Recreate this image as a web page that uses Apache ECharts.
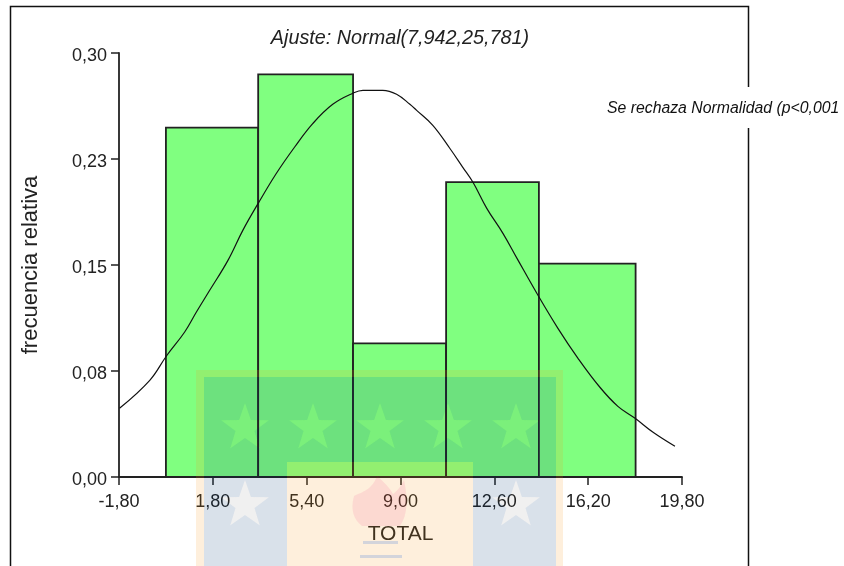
<!DOCTYPE html>
<html>
<head>
<meta charset="utf-8">
<title>Ajuste Normal</title>
<script src="https://cdn.jsdelivr.net/npm/echarts@6/dist/echarts.min.js"></script>
<style>
    html, body { margin: 0; padding: 0; background: #fff; }
    #chart { width: 844px; height: 566px; }
</style>
</head>
<body>
<div id="chart"></div>
<script>
// valores
var xTicks = [-1.8, 1.8, 5.4, 9.0, 12.6, 16.2, 19.8];
var xTickLabels = ['-1,80', '1,80', '5,40', '9,00', '12,60', '16,20', '19,80'];
var yTicks = [0, 0.075, 0.15, 0.225, 0.3];
var yTickLabels = ['0,00', '0,08', '0,15', '0,23', '0,30'];

var binEdges = [0.0, 3.54, 7.18, 10.75, 14.31, 18.02];
var binHeights = [0.2472, 0.2849, 0.0946, 0.2087, 0.1510];

var curveX = [-1.78, -0.62, 0.02, 0.72, 1.17, 1.68, 2.38, 2.95, 3.54, 4.24, 4.94, 5.64, 6.40, 7.17, 7.56, 8.32, 8.85,
    9.36, 9.62, 10.24, 10.89, 11.39, 11.78, 12.31, 12.93, 13.47, 14.23, 15.04, 15.81, 16.65, 17.34, 18.0, 18.69, 19.53];
var curveY = [0.0486, 0.0684, 0.0856, 0.1026, 0.1167, 0.1321, 0.1533, 0.1745, 0.1936, 0.2149, 0.2335, 0.2502, 0.2637, 0.2715, 0.2736, 0.2736, 0.2708,
    0.2637, 0.2594, 0.2488, 0.2326, 0.2191, 0.2085, 0.1901, 0.1724, 0.1547, 0.1300, 0.1052, 0.0840, 0.0635, 0.0500, 0.0415, 0.0316, 0.0217];

var titleText = 'Ajuste: Normal(7,942,25,781)';
var noteText = 'Se rechaza Normalidad (p<0,001';
var xName = 'TOTAL';
var yName = 'frecuencia relativa';

var FONT = '"Liberation Sans", Arial, sans-serif';
var INK = '#222';

var bins = binHeights.map(function(h, i) {
    return [binEdges[i], binEdges[i + 1], h];
});
var curve = curveX.map(function(x, i) {
    return [x, curveY[i]];
});

// estrella como contorno de path, cw = false la deja como agujero
function starPath(cx, cy, r, cw) {
    var pts = [];
    for (var i = 0; i < 10; i++) {
        var rad = i % 2 ? r * 0.4 : r;
        var a = -Math.PI / 2 + (cw ? 1 : -1) * i * Math.PI / 5;
        pts.push((cx + rad * Math.cos(a)).toFixed(1) + ' ' + (cy + rad * Math.sin(a)).toFixed(1));
    }
    return 'M' + pts.join('L') + 'Z';
}

var starCenters = [[245, 428], [313, 428], [380, 428], [448, 428], [516, 428], [245, 505], [516, 505]];
var starR = 25;

// escudo de fondo, encima de todo el grafico
function pathEl(d, fill) {
    return {
        type: 'path',
        silent: true,
        shape: { pathData: d },
        style: { fill: fill }
    };
}

var bluePath = 'M204 377H556V566H473V462H287V566H204Z' + starCenters.map(function(c) {
    return starPath(c[0], c[1], starR, false);
}).join('');
var orangePath = 'M196 370H563V566H556V377H204V566H196Z';
var orangeCenter = 'M287 462H473V566H287Z';
var flamePath = 'M377 476C372 490 362 492 354 496C350 510 354 520 362 526L400 526C408 515 408 498 404 480C400 488 396 492 393 494C390 488 384 482 377 476Z';
var starsOverlay = starCenters.map(function(c) {
    return starPath(c[0], c[1], starR, true);
}).join('');
var underlines = 'M363 541H398V544H363ZM360 555H402V558H360Z';

var option = {
    animation: false,
    backgroundColor: '#fff',
    grid: { left: 119, top: 53, right: 162, bottom: 89 },
    xAxis: {
        type: 'value',
        min: -1.8,
        max: 19.8,
        name: xName,
        nameLocation: 'middle',
        nameGap: 47,
        nameTextStyle: { fontFamily: FONT, fontSize: 21, color: INK },
        splitLine: { show: false },
        axisLine: { show: true, onZero: false, lineStyle: { color: INK, width: 1.8 } },
        axisTick: { show: true, length: 8, customValues: xTicks, lineStyle: { color: INK, width: 1.5 } },
        axisLabel: {
            show: true,
            margin: 16,
            customValues: xTicks,
            showMinLabel: true,
            showMaxLabel: true,
            fontFamily: FONT,
            fontSize: 18,
            color: INK,
            formatter: function(v) {
                return xTickLabels[xTicks.indexOf(v)];
            }
        }
    },
    yAxis: {
        type: 'value',
        min: 0,
        max: 0.3,
        interval: 0.075,
        name: yName,
        nameLocation: 'middle',
        nameGap: 77,
        nameTextStyle: { fontFamily: FONT, fontSize: 22, color: INK },
        splitLine: { show: false },
        axisLine: { show: true, onZero: false, lineStyle: { color: INK, width: 1.8 } },
        axisTick: { show: true, length: 8, lineStyle: { color: INK, width: 1.5 } },
        axisLabel: {
            margin: 12,
            verticalAlign: 'top',
            lineHeight: 7,
            fontFamily: FONT,
            fontSize: 18,
            color: INK,
            formatter: function(v, i) {
                return yTickLabels[i];
            }
        }
    },
    series: [{
        type: 'custom',
        data: bins,
        encode: { x: [0, 1], y: 2 },
        z: 2,
        renderItem: function(params, api) {
            var p0 = api.coord([api.value(0), 0]);
            var p1 = api.coord([api.value(1), api.value(2)]);
            return {
                type: 'rect',
                shape: { x: p0[0], y: p1[1], width: p1[0] - p0[0], height: p0[1] - p1[1] },
                style: { fill: '#80FF80', stroke: INK, lineWidth: 1.8 }
            };
        }
    }, {
        type: 'line',
        data: curve,
        z: 3,
        smooth: 0.4,
        showSymbol: false,
        silent: true,
        lineStyle: { color: '#111', width: 1.2 }
    }, {
        type: 'custom',
        coordinateSystem: 'none',
        data: [0],
        z: 100,
        silent: true,
        renderItem: function() {
            return {
                type: 'group',
                children: [
                    pathEl(orangePath, 'rgba(248,148,22,0.15)'),
                    pathEl(orangeCenter, 'rgba(248,148,22,0.15)'),
                    pathEl(bluePath, 'rgba(0,55,115,0.15)'),
                    pathEl(starsOverlay, 'rgba(60,60,70,0.08)'),
                    pathEl(flamePath, 'rgba(230,0,100,0.09)'),
                    pathEl(underlines, 'rgba(60,120,220,0.22)')
                ]
            };
        }
    }],
    graphic: [{
        type: 'polyline',
        z: 0,
        silent: true,
        shape: { points: [[10.5, 570], [10.5, 6.5], [748.5, 6.5], [748.5, 570]] },
        style: { fill: 'none', stroke: '#111', lineWidth: 1.5 }
    }, {
        type: 'text',
        z: 1,
        silent: true,
        x: 603,
        y: 87,
        style: {
            text: noteText,
            fontFamily: FONT,
            fontSize: 15.8,
            fontStyle: 'italic',
            fill: '#111',
            backgroundColor: '#fff',
            padding: [13, 4, 11, 4],
            lineHeight: 17
        }
    }, {
        type: 'text',
        z: 1,
        silent: true,
        x: 400,
        y: 38,
        style: {
            text: titleText,
            align: 'center',
            verticalAlign: 'middle',
            fontFamily: FONT,
            fontSize: 19.8,
            fontStyle: 'italic',
            fill: INK
        }
    }]
};

var chart = echarts.init(document.getElementById('chart'), null, { renderer: 'canvas' });
chart.setOption(option);
</script>
</body>
</html>
